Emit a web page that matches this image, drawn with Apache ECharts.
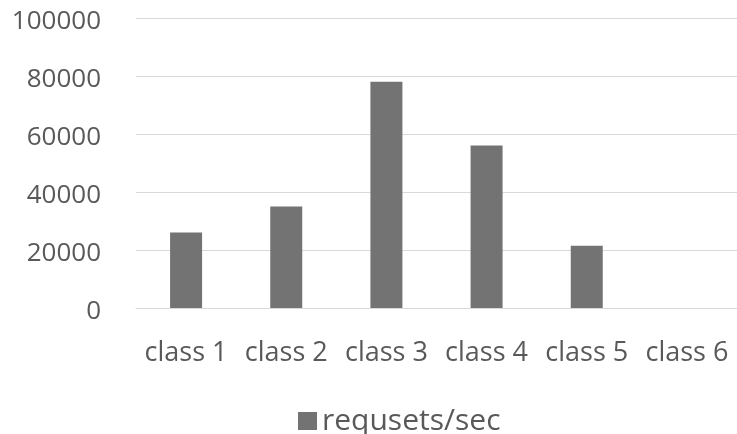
<!DOCTYPE html>
<html>
<head>
<meta charset="utf-8">
<script src="https://cdn.jsdelivr.net/npm/echarts@6/dist/echarts.min.js"></script>
<style>
  html, body { margin: 0; padding: 0; background: #ffffff; }
  #chart { width: 737px; height: 434px; }
</style>
</head>
<body>
<div id="chart"></div>
<script>
// Throughput per request class
const categories = ['class 1', 'class 2', 'class 3', 'class 4', 'class 5', 'class 6'];
const requestsPerSec = [26000, 35000, 78000, 56000, 21500, 0];
const seriesName = 'requsets/sec';
const yTicks = { min: 0, max: 100000, interval: 20000 };

const textColor = '#595959';
const fontFamily = '"Open Sans", sans-serif';

const chart = echarts.init(document.getElementById('chart'), null, { renderer: 'canvas' });
chart.setOption({
  animation: false,
  backgroundColor: '#ffffff',
  grid: { left: 136, right: -5, top: 18, bottom: 126, containLabel: false },
  legend: {
    data: [seriesName],
    left: 293,
    top: 401,
    icon: 'rect',
    itemWidth: 19,
    itemHeight: 18,
    itemGap: 10,
    textStyle: { color: textColor, fontFamily: fontFamily, fontSize: 30 }
  },
  xAxis: {
    type: 'category',
    data: categories,
    axisLine: { lineStyle: { color: '#d9d9d9', width: 1 } },
    axisTick: { show: false },
    axisLabel: {
      color: textColor,
      fontFamily: fontFamily,
      fontSize: 27,
      margin: 32,
      interval: 0
    }
  },
  yAxis: {
    type: 'value',
    min: yTicks.min,
    max: yTicks.max,
    interval: yTicks.interval,
    axisLine: { show: false },
    axisTick: { show: false },
    splitLine: { lineStyle: { color: '#d9d9d9', width: 1 } },
    axisLabel: {
      color: textColor,
      fontFamily: fontFamily,
      fontSize: 26,
      margin: 35,
      formatter: (v) => '{n|' + v + '}',
      rich: {
        n: {
          color: textColor,
          fontFamily: fontFamily,
          fontSize: 26,
          padding: [7, 0, 0, 0]
        }
      }
    }
  },
  series: [{
    name: seriesName,
    type: 'bar',
    data: requestsPerSec,
    barWidth: 32,
    itemStyle: { color: '#737373' }
  }]
});
</script>
</body>
</html>
